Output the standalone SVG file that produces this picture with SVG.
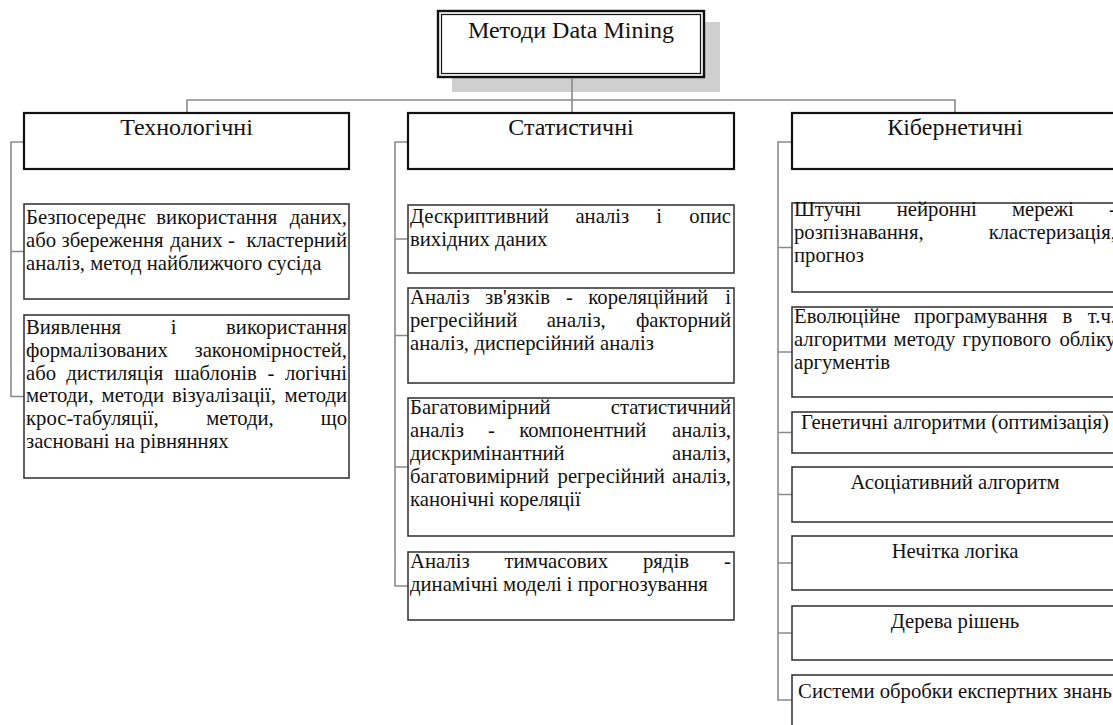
<svg xmlns="http://www.w3.org/2000/svg" width="1113" height="725" viewBox="0 0 1113 725">
<style>
  .conn{fill:none;stroke:#8a8a8a;stroke-width:1.6}
  .hdr{fill:#fff;stroke:#111;stroke-width:2.2}
  .box{fill:#fff;stroke:#3a3a3a;stroke-width:1.6}
  text{font-family:"Liberation Serif","Times New Roman",serif;fill:#111}
  .h{font-size:24px;text-anchor:middle}
  .t{font-size:20.7px}
  .e{font-size:20.7px;text-anchor:end}
  .c{font-size:20.7px;text-anchor:middle}
</style>
<rect width="1113" height="725" fill="#fff"/>

<g id="root">
  <rect x="452" y="22" width="268" height="70" fill="#cfcfcf"/>
  <rect x="438" y="11" width="266" height="66" fill="#fff" stroke="#111" stroke-width="2.4"/>
  <rect x="441.5" y="14.5" width="259" height="59" fill="none" stroke="#111" stroke-width="1.2"/>
  <text class="h" x="571" y="38">Методи Data Mining</text>
</g>

<g id="connectors">
  <path class="conn" d="M572 78 V113 M187 113 V100 H955 V113"/>
  <path class="conn" d="M24 142 H11 V396.5 H24 M11 251.5 H24"/>
  <path class="conn" d="M408 142 H395 V586 H408 M395 239 H408 M395 335.5 H408 M395 467 H408"/>
  <path class="conn" d="M792 142 H778 V700 H792 M778 247.5 H792 M778 352 H792 M778 432.5 H792 M778 494.5 H792 M778 563 H792 M778 633 H792"/>
</g>

<g id="tech">
  <rect class="hdr" x="24" y="113" width="325" height="56"/>
  <text class="h" x="186.5" y="135">Технологічні</text>
</g>
<g id="tech1">
  <rect class="box" x="24" y="204" width="325" height="95"/>
  <text class="t" y="224"><tspan x="26">Безпосереднє</tspan><tspan x="156.3">використання</tspan></text>
  <text class="e" x="347" y="224">даних,</text>
  <text class="t" y="246.8"><tspan x="26">або</tspan><tspan x="61.6">збереження</tspan><tspan x="170.3">даних</tspan><tspan x="228">-</tspan></text>
  <text class="e" x="347" y="246.8">кластерний</text>
  <text class="t" x="26" y="269.6">аналіз, метод найближчого сусіда</text>
</g>
<g id="tech2">
  <rect class="box" x="24" y="315" width="325" height="163"/>
  <text class="t" y="334"><tspan x="26">Виявлення</tspan><tspan x="170.7">і</tspan></text>
  <text class="e" x="347" y="334">використання</text>
  <text class="t" x="26" y="356.8">формалізованих</text>
  <text class="e" x="347" y="356.8">закономірностей,</text>
  <text class="t" y="379.6"><tspan x="26">або</tspan><tspan x="66.2">дистиляція</tspan><tspan x="174.5">шаблонів</tspan><tspan x="267.6">-</tspan></text>
  <text class="e" x="347" y="379.6">логічні</text>
  <text class="t" y="402.4"><tspan x="26">методи,</tspan><tspan x="101.6">методи</tspan><tspan x="172.1">візуалізації,</tspan></text>
  <text class="e" x="347" y="402.4">методи</text>
  <text class="t" y="425.2"><tspan x="26">крос-табуляції,</tspan><tspan x="206.2">методи,</tspan></text>
  <text class="e" x="347" y="425.2">що</text>
  <text class="t" x="26" y="448">засновані на рівняннях</text>
</g>

<g id="stat">
  <rect class="hdr" x="408" y="113" width="326" height="56"/>
  <text class="h" x="571" y="135">Статистичні</text>
</g>
<g id="stat1">
  <rect class="box" x="408" y="205" width="326" height="68"/>
  <text class="t" y="223"><tspan x="410">Дескриптивний</tspan><tspan x="575.4">аналіз</tspan><tspan x="656.3">і</tspan></text>
  <text class="e" x="731" y="223">опис</text>
  <text class="t" x="410" y="246">вихідних даних</text>
</g>
<g id="stat2">
  <rect class="box" x="408" y="288" width="326" height="95"/>
  <text class="t" y="304"><tspan x="410">Аналіз</tspan><tspan x="485">зв'язків</tspan><tspan x="565.9">-</tspan><tspan x="588.3">кореляційний</tspan></text>
  <text class="e" x="731" y="304">і</text>
  <text class="t" y="327"><tspan x="410">регресійний</tspan><tspan x="546.7">аналіз,</tspan></text>
  <text class="e" x="731" y="327">факторний</text>
  <text class="t" x="410" y="350">аналіз, дисперсійний аналіз</text>
</g>
<g id="stat3">
  <rect class="box" x="408" y="398" width="326" height="138"/>
  <text class="t" x="410" y="414">Багатовимірний</text>
  <text class="e" x="731" y="414">статистичний</text>
  <text class="t" y="437"><tspan x="410">аналіз</tspan><tspan x="488">-</tspan><tspan x="519.2">компонентний</tspan></text>
  <text class="e" x="731" y="437">аналіз,</text>
  <text class="t" x="410" y="460">дискримінантний</text>
  <text class="e" x="731" y="460">аналіз,</text>
  <text class="t" y="483"><tspan x="410">багатовимірний</tspan><tspan x="557.6">регресійний</tspan></text>
  <text class="e" x="731" y="483">аналіз,</text>
  <text class="t" x="410" y="506">канонічні кореляції</text>
</g>
<g id="stat4">
  <rect class="box" x="408" y="552" width="326" height="68"/>
  <text class="t" y="568"><tspan x="410">Аналіз</tspan><tspan x="504.5">тимчасових</tspan><tspan x="643">рядів</tspan></text>
  <text class="e" x="731" y="568">-</text>
  <text class="t" x="410" y="591">динамічні моделі і прогнозування</text>
</g>

<g id="cyb">
  <rect class="hdr" x="792" y="113" width="326" height="56"/>
  <text class="h" x="955" y="135">Кібернетичні</text>
</g>
<g id="cyb1">
  <rect class="box" x="792" y="203" width="326" height="89"/>
  <text class="t" y="216"><tspan x="794">Штучні</tspan><tspan x="896.8">нейронні</tspan><tspan x="1011.9">мережі</tspan></text>
  <text class="e" x="1116" y="216">-</text>
  <text class="t" x="794" y="239">розпізнавання,</text>
  <text class="e" x="1116" y="239">кластеризація,</text>
  <text class="t" x="794" y="262">прогноз</text>
</g>
<g id="cyb2">
  <rect class="box" x="792" y="307" width="326" height="90"/>
  <text class="t" y="323"><tspan x="794">Еволюційне</tspan><tspan x="914.1">програмування</tspan><tspan x="1062.4">в</tspan></text>
  <text class="e" x="1116" y="323">т.ч.</text>
  <text class="t" y="346"><tspan x="794">алгоритми</tspan><tspan x="893.6">методу</tspan><tspan x="962.5">групового</tspan></text>
  <text class="e" x="1116" y="346">обліку</text>
  <text class="t" x="794" y="369">аргументів</text>
</g>
<g id="cyb3">
  <rect class="box" x="792" y="412" width="326" height="41"/>
  <text class="c" x="955" y="429">Генетичні алгоритми (оптимізація)</text>
</g>
<g id="cyb4">
  <rect class="box" x="792" y="467" width="326" height="55"/>
  <text class="c" x="955" y="489">Асоціативний алгоритм</text>
</g>
<g id="cyb5">
  <rect class="box" x="792" y="536" width="326" height="54"/>
  <text class="c" x="955" y="558">Нечітка логіка</text>
</g>
<g id="cyb6">
  <rect class="box" x="792" y="606" width="326" height="54"/>
  <text class="c" x="955" y="628">Дерева рішень</text>
</g>
<g id="cyb7">
  <rect class="box" x="792" y="675" width="326" height="60"/>
  <text class="c" x="955" y="698">Системи обробки експертних знань</text>
</g>
</svg>
